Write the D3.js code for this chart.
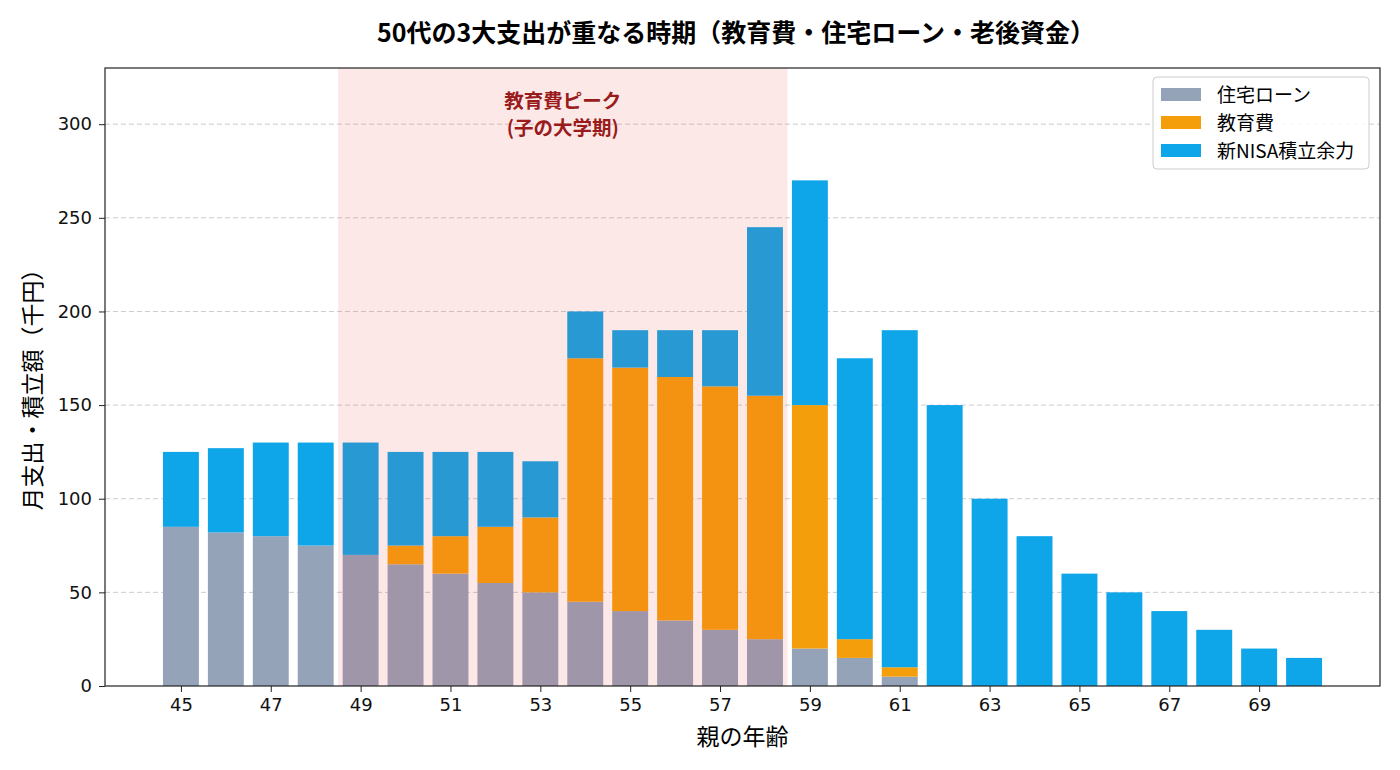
<!DOCTYPE html>
<html lang="ja">
<head>
<meta charset="UTF-8">
<title>50代の3大支出</title>
<script src="https://cdn.jsdelivr.net/npm/d3@7"></script>
<style>
  body { margin: 0; background: #fff; }
  svg { font-family: "Noto Sans CJK JP", "Noto Sans", sans-serif; }
</style>
</head>
<body>
<div id="chart"></div>
<script>
// data
var ages = d3.range(45, 71);
var loan = [85, 82, 80, 75, 70, 65, 60, 55, 50, 45, 40, 35, 30, 25, 20, 15, 5, 0, 0, 0, 0, 0, 0, 0, 0, 0];
var edu  = [0, 0, 0, 0, 0, 10, 20, 30, 40, 130, 130, 130, 130, 130, 130, 10, 5, 0, 0, 0, 0, 0, 0, 0, 0, 0];
var nisa = [40, 45, 50, 55, 60, 50, 45, 40, 30, 25, 20, 25, 30, 90, 120, 150, 180, 150, 100, 80, 60, 50, 40, 30, 20, 15];
var seriesNames = ["住宅ローン", "教育費", "新NISA積立余力"];
var colors = ["#94a3b8", "#f59e0b", "#0ea5e9"];
var yTicks = [0, 50, 100, 150, 200, 250, 300];
var xTicks = d3.range(45, 71, 2);
var noteLines = ["教育費ピーク", "(子の大学期)"];

var W = 1400, H = 770;
var margin = {top: 68, right: 20, bottom: 84, left: 105};
var width = W - margin.left - margin.right,
    height = H - margin.top - margin.bottom;

var svg = d3.select("#chart").append("svg")
    .attr("width", W).attr("height", H);
var g = svg.append("g")
    .attr("transform", "translate(" + margin.left + "," + margin.top + ")");

var x = d3.scaleLinear().domain([43.31, 71.69]).range([0, width]);
var y = d3.scaleLinear().domain([0, 330]).range([height, 0]);

// grid
g.append("g").selectAll("line").data(yTicks.slice(1)).enter().append("line")
    .attr("x1", 0).attr("x2", width)
    .attr("y1", function(d) { return y(d); }).attr("y2", function(d) { return y(d); })
    .attr("stroke", "#cccccc").attr("stroke-dasharray", "5,3").attr("stroke-width", 1);

// stacked bars
var table = ages.map(function(a, i) { return {age: a, loan: loan[i], edu: edu[i], nisa: nisa[i]}; });
var stack = d3.stack().keys(["loan", "edu", "nisa"])(table);
var bw = x(0.8) - x(0);
g.append("g").selectAll("g").data(stack).enter().append("g")
    .attr("fill", function(d, i) { return colors[i]; })
  .selectAll("rect").data(function(d) { return d; }).enter().append("rect")
    .attr("x", function(d) { return x(d.data.age - 0.4); })
    .attr("width", bw)
    .attr("y", function(d) { return y(d[1]); })
    .attr("height", function(d) { return y(d[0]) - y(d[1]); });

// span (drawn over the bars, like the reference)
g.append("rect")
    .attr("x", x(48.5)).attr("width", x(58.5) - x(48.5))
    .attr("y", 0).attr("height", height)
    .attr("fill", "#ef4444").attr("fill-opacity", 0.12);

g.selectAll("text.note").data(noteLines).enter().append("text")
    .attr("class", "note")
    .attr("x", x(53.5))
    .attr("y", function(d, i) { return 108 - margin.top + i * 27; })
    .attr("text-anchor", "middle")
    .attr("fill", "#991b1b").attr("font-weight", "bold").attr("font-size", 19.5)
    .text(function(d) { return d; });

// axes
var xAxis = g.append("g").attr("transform", "translate(0," + height + ")")
    .call(d3.axisBottom(x).tickValues(xTicks).tickSize(6).tickPadding(6));
var yAxis = g.append("g")
    .call(d3.axisLeft(y).tickValues(yTicks).tickSize(6).tickPadding(7));
[xAxis, yAxis].forEach(function(a) {
  a.select(".domain").remove();
  a.selectAll("text").attr("font-size", 18).attr("fill", "#111")
    .style("font-family", "'DejaVu Sans', sans-serif");
  a.selectAll("line").attr("stroke", "#222");
});

g.append("rect").attr("width", width).attr("height", height)
    .attr("fill", "none").attr("stroke", "#222").attr("stroke-width", 1.2);

// labels
svg.append("text")
    .attr("x", 736).attr("y", 42)
    .attr("text-anchor", "middle").attr("font-weight", "bold").attr("font-size", 25)
    .text("50代の3大支出が重なる時期（教育費・住宅ローン・老後資金）");
svg.append("text")
    .attr("x", margin.left + width / 2).attr("y", 745)
    .attr("text-anchor", "middle").attr("font-size", 23)
    .text("親の年齢");
svg.append("text")
    .attr("transform", "translate(41,384) rotate(-90)")
    .attr("text-anchor", "middle").attr("font-size", 23)
    .text("月支出・積立額（千円）");

// legend
var lg = svg.append("g").attr("transform", "translate(1153,77)");
lg.append("rect").attr("width", 216).attr("height", 92).attr("rx", 4)
    .attr("fill", "#fff").attr("fill-opacity", 0.85).attr("stroke", "#cccccc");
var items = lg.selectAll("g.item").data(seriesNames).enter().append("g")
    .attr("transform", function(d, i) { return "translate(8," + (11 + i * 28) + ")"; });
items.append("rect").attr("width", 40).attr("height", 13)
    .attr("fill", function(d, i) { return colors[i]; });
items.append("text").attr("x", 56).attr("y", 13.5).attr("font-size", 19)
    .text(function(d) { return d; });
</script>
</body>
</html>
